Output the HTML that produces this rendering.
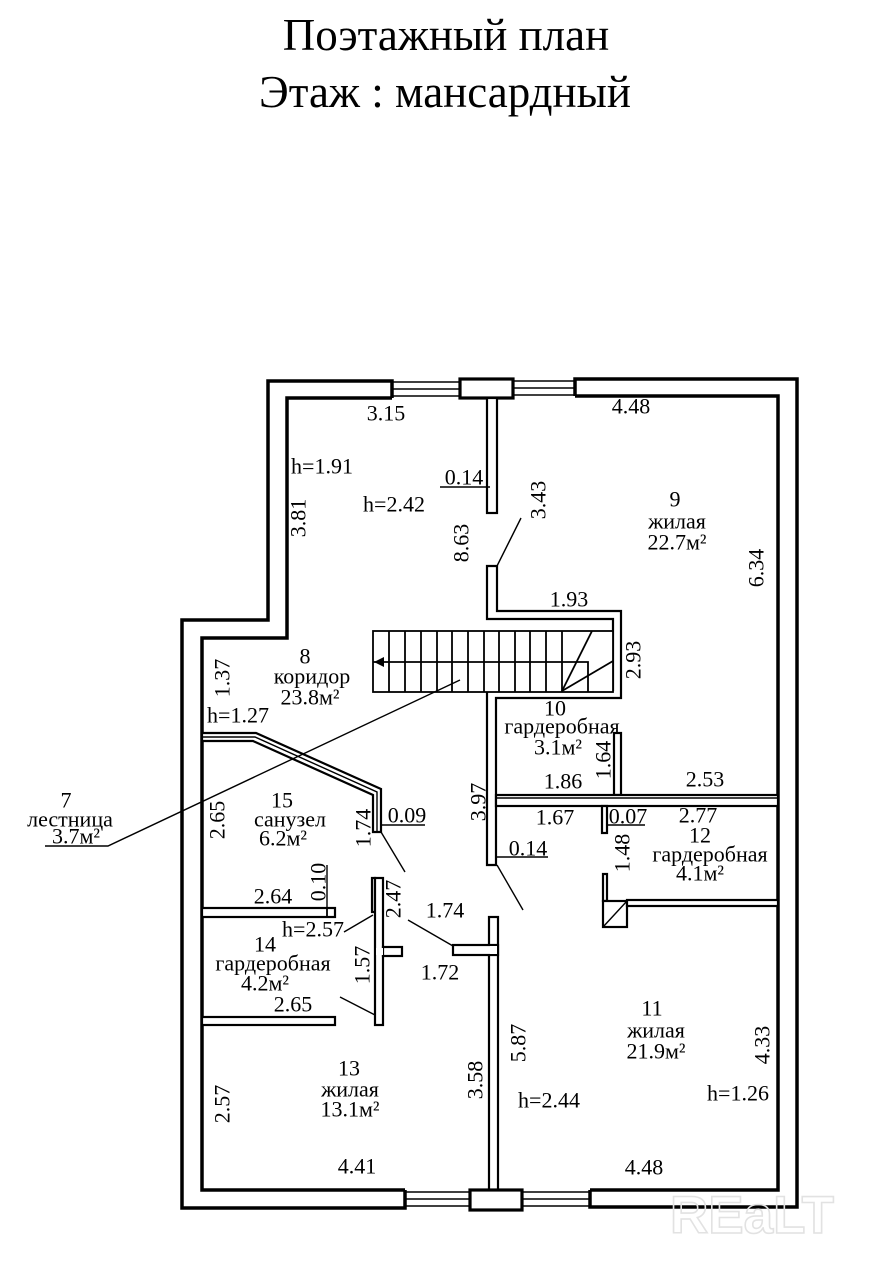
<!DOCTYPE html>
<html><head><meta charset="utf-8"><style>
html,body{margin:0;padding:0;background:#fff;}
svg{display:block;}
text{font-family:"Liberation Serif","DejaVu Serif",serif;fill:#000;}
.t{font-size:22px;text-anchor:middle;dominant-baseline:central;}
.w{fill:#fff;stroke:#000;stroke-width:2.2;}
.o{fill:none;stroke:#000;stroke-width:3.5;stroke-linejoin:miter;}
.l{fill:none;stroke:#000;stroke-width:1.4;}
.s{fill:none;stroke:#000;stroke-width:1.8;}
</style></head><body>
<svg width="882" height="1280" viewBox="0 0 882 1280" xmlns="http://www.w3.org/2000/svg">
<rect x="0" y="0" width="882" height="1280" fill="#fff"/>

<!-- Title -->
<text x="446" y="50" style="font-size:45px;text-anchor:middle">Поэтажный план</text>
<text x="445" y="107" style="font-size:45px;text-anchor:middle">Этаж : мансардный</text>

<!-- Outer walls left part -->
<polyline class="o" points="392,398 392,381 268,381 268,620 182,620 182,1208 405,1208 405,1190"/>
<polyline class="o" points="392,398 287,398 287,638 202,638 202,1190 405,1190"/>
<!-- Outer walls right part -->
<polyline class="o" points="575,396 575,379 797,379 797,1207 590,1207 590,1190"/>
<polyline class="o" points="575,396 778,396 778,1190 590,1190"/>

<!-- Top windows -->
<line class="l" x1="392" y1="382" x2="460" y2="382"/>
<line class="l" x1="392" y1="389" x2="460" y2="389"/>
<line class="l" x1="392" y1="396" x2="460" y2="396"/>
<line class="l" x1="513" y1="381" x2="575" y2="381"/>
<line class="l" x1="513" y1="388" x2="575" y2="388"/>
<line class="l" x1="513" y1="395" x2="575" y2="395"/>
<rect x="460" y="379" width="53" height="19" fill="#fff" stroke="#000" stroke-width="3.2"/>

<!-- Bottom windows -->
<line class="l" x1="405" y1="1192" x2="470" y2="1192"/>
<line class="l" x1="405" y1="1199" x2="470" y2="1199"/>
<line class="l" x1="405" y1="1206" x2="470" y2="1206"/>
<line class="l" x1="522" y1="1192" x2="590" y2="1192"/>
<line class="l" x1="522" y1="1199" x2="590" y2="1199"/>
<line class="l" x1="522" y1="1206" x2="590" y2="1206"/>

<!-- Interior walls -->
<rect class="w" x="487" y="398" width="10" height="115"/>
<polygon class="w" points="487,566 497,566 497,611 621,611 621,698 496,698 496,865 487,865 487,690 613,690 613,619 487,619"/>
<rect class="w" x="614" y="733" width="7" height="62"/>
<rect class="w" x="496" y="795" width="282" height="11"/>
<line class="l" x1="496" y1="798" x2="778" y2="798"/>
<rect class="w" x="602" y="806" width="5" height="27"/>
<rect class="w" x="603" y="874" width="4" height="27"/>
<rect class="w" x="603" y="901" width="24" height="26"/>
<line class="l" x1="603" y1="927" x2="627" y2="901"/>
<rect class="w" x="627" y="900" width="151" height="6"/>

<!-- Room 15 walls -->
<polygon class="w" points="202,733 256,733 381,789 381,832 373,832 373,795 253,741 202,741"/>
<polyline class="l" points="202,737 255,737 377,792 377,832"/>
<rect class="w" x="202" y="908" width="133" height="9"/>
<line class="s" x1="327" y1="908" x2="327" y2="917"/>
<rect class="w" x="202" y="1017" width="133" height="8"/>

<!-- Wall room 14 / corridor -->
<rect class="w" x="372" y="878" width="3" height="34"/>
<rect class="w" x="375" y="878" width="8" height="147"/>
<rect class="w" x="383" y="947" width="19" height="9"/>
<rect x="376" y="948" width="7" height="7" fill="#fff"/>

<!-- Corridor / room 11 wall -->
<rect class="w" x="489" y="917" width="9" height="275"/>
<rect class="w" x="453" y="945" width="45" height="10"/>
<rect x="490" y="946" width="7" height="8" fill="#fff"/>

<!-- Bottom pier -->
<rect x="470" y="1190" width="52" height="20" fill="#fff" stroke="#000" stroke-width="3.2"/>

<!-- Stairs -->
<rect x="373" y="631" width="240" height="61" fill="#fff" stroke="#000" stroke-width="1.8"/>
<g class="s">
<line x1="389" y1="631" x2="389" y2="692"/>
<line x1="405" y1="631" x2="405" y2="692"/>
<line x1="421" y1="631" x2="421" y2="692"/>
<line x1="437" y1="631" x2="437" y2="692"/>
<line x1="452" y1="631" x2="452" y2="692"/>
<line x1="468" y1="631" x2="468" y2="692"/>
<line x1="484" y1="631" x2="484" y2="692"/>
<line x1="499" y1="631" x2="499" y2="692"/>
<line x1="515" y1="631" x2="515" y2="692"/>
<line x1="530" y1="631" x2="530" y2="692"/>
<line x1="546" y1="631" x2="546" y2="692"/>
<line x1="562" y1="631" x2="562" y2="692"/>
<polyline points="373,662 588,662 588,692"/>
<line x1="562" y1="691" x2="592" y2="631"/>
<line x1="562" y1="691" x2="613" y2="661"/>
</g>
<polygon points="374,662 384,657 384,667" fill="#000"/>

<!-- Door / leader lines -->
<g class="l">
<line x1="521" y1="518" x2="497" y2="566"/>
<line x1="497" y1="865" x2="523" y2="910"/>
<line x1="381" y1="832" x2="405" y2="872"/>
<line x1="408" y1="920" x2="453" y2="946"/>
<line x1="373" y1="915" x2="344" y2="932"/>
<line x1="340" y1="997" x2="375" y2="1015"/>
<line x1="440" y1="487" x2="490" y2="487"/>
<line x1="381" y1="825" x2="425" y2="825"/>
<line x1="607" y1="825" x2="645" y2="825"/>
<line x1="496" y1="857" x2="548" y2="857"/>
<line x1="327" y1="865" x2="327" y2="908"/>
<polyline points="45,846 108,846 460,680"/>
</g>

<!-- Labels -->
<text class="t" x="386" y="413">3.15</text>
<text class="t" x="631" y="406">4.48</text>
<text class="t" x="322" y="466">h=1.91</text>
<text class="t" x="464" y="477">0.14</text>
<text class="t" x="394" y="504">h=2.42</text>
<text class="t" transform="translate(298,518) rotate(-90)">3.81</text>
<text class="t" transform="translate(461,543) rotate(-90)">8.63</text>
<text class="t" transform="translate(538,500) rotate(-90)">3.43</text>
<text class="t" x="675" y="499">9</text>
<text class="t" x="677" y="521">жилая</text>
<text class="t" x="677" y="542">22.7м²</text>
<text class="t" transform="translate(756,568) rotate(-90)">6.34</text>
<text class="t" x="569" y="599">1.93</text>
<text class="t" transform="translate(633,660) rotate(-90)">2.93</text>

<text class="t" x="305" y="656">8</text>
<text class="t" x="312" y="676">коридор</text>
<text class="t" x="310" y="697">23.8м²</text>
<text class="t" transform="translate(222,678) rotate(-90)">1.37</text>
<text class="t" x="238" y="715">h=1.27</text>

<text class="t" x="555" y="708">10</text>
<text class="t" x="562" y="726">гардеробная</text>
<text class="t" x="558" y="747">3.1м²</text>
<text class="t" transform="translate(603,760) rotate(-90)">1.64</text>
<text class="t" x="563" y="781">1.86</text>
<text class="t" x="705" y="779">2.53</text>
<text class="t" x="555" y="817">1.67</text>
<text class="t" x="628" y="816">0.07</text>
<text class="t" x="698" y="815">2.77</text>
<text class="t" x="700" y="835">12</text>
<text class="t" x="710" y="854">гардеробная</text>
<text class="t" x="700" y="873">4.1м²</text>
<text class="t" transform="translate(622,853) rotate(-90)">1.48</text>
<text class="t" x="528" y="848">0.14</text>
<text class="t" transform="translate(478,802) rotate(-90)">3.97</text>

<text class="t" x="282" y="800">15</text>
<text class="t" x="290" y="819">санузел</text>
<text class="t" x="283" y="838">6.2м²</text>
<text class="t" transform="translate(217,820) rotate(-90)">2.65</text>
<text class="t" transform="translate(363,828) rotate(-90)">1.74</text>
<text class="t" x="407" y="815">0.09</text>

<text class="t" x="273" y="896">2.64</text>
<text class="t" transform="translate(318,882) rotate(-90)">0.10</text>
<text class="t" transform="translate(393,899) rotate(-90)">2.47</text>
<text class="t" x="445" y="910">1.74</text>
<text class="t" x="313" y="929">h=2.57</text>
<text class="t" x="265" y="944">14</text>
<text class="t" x="273" y="963">гардеробная</text>
<text class="t" x="265" y="983">4.2м²</text>
<text class="t" transform="translate(362,965) rotate(-90)">1.57</text>
<text class="t" x="440" y="972">1.72</text>
<text class="t" x="293" y="1004">2.65</text>

<text class="t" x="652" y="1008">11</text>
<text class="t" x="656" y="1030">жилая</text>
<text class="t" x="656" y="1051">21.9м²</text>
<text class="t" transform="translate(518,1043) rotate(-90)">5.87</text>
<text class="t" transform="translate(762,1045) rotate(-90)">4.33</text>
<text class="t" x="349" y="1068">13</text>
<text class="t" x="350" y="1089">жилая</text>
<text class="t" x="350" y="1109">13.1м²</text>
<text class="t" transform="translate(475,1080) rotate(-90)">3.58</text>
<text class="t" transform="translate(222,1104) rotate(-90)">2.57</text>
<text class="t" x="549" y="1100">h=2.44</text>
<text class="t" x="738" y="1093">h=1.26</text>
<text class="t" x="357" y="1166">4.41</text>
<text class="t" x="644" y="1167">4.48</text>

<text class="t" x="66" y="800">7</text>
<text class="t" x="70" y="819">лестница</text>
<text class="t" x="76" y="836">3.7м²</text>

<!-- Watermark -->
<text x="752" y="1233" style="font-family:'Liberation Sans',sans-serif;font-size:53px;font-weight:bold;fill:none;stroke:#e2e2e2;stroke-width:1.6;text-anchor:middle">REaLT</text>
</svg>
</body></html>
